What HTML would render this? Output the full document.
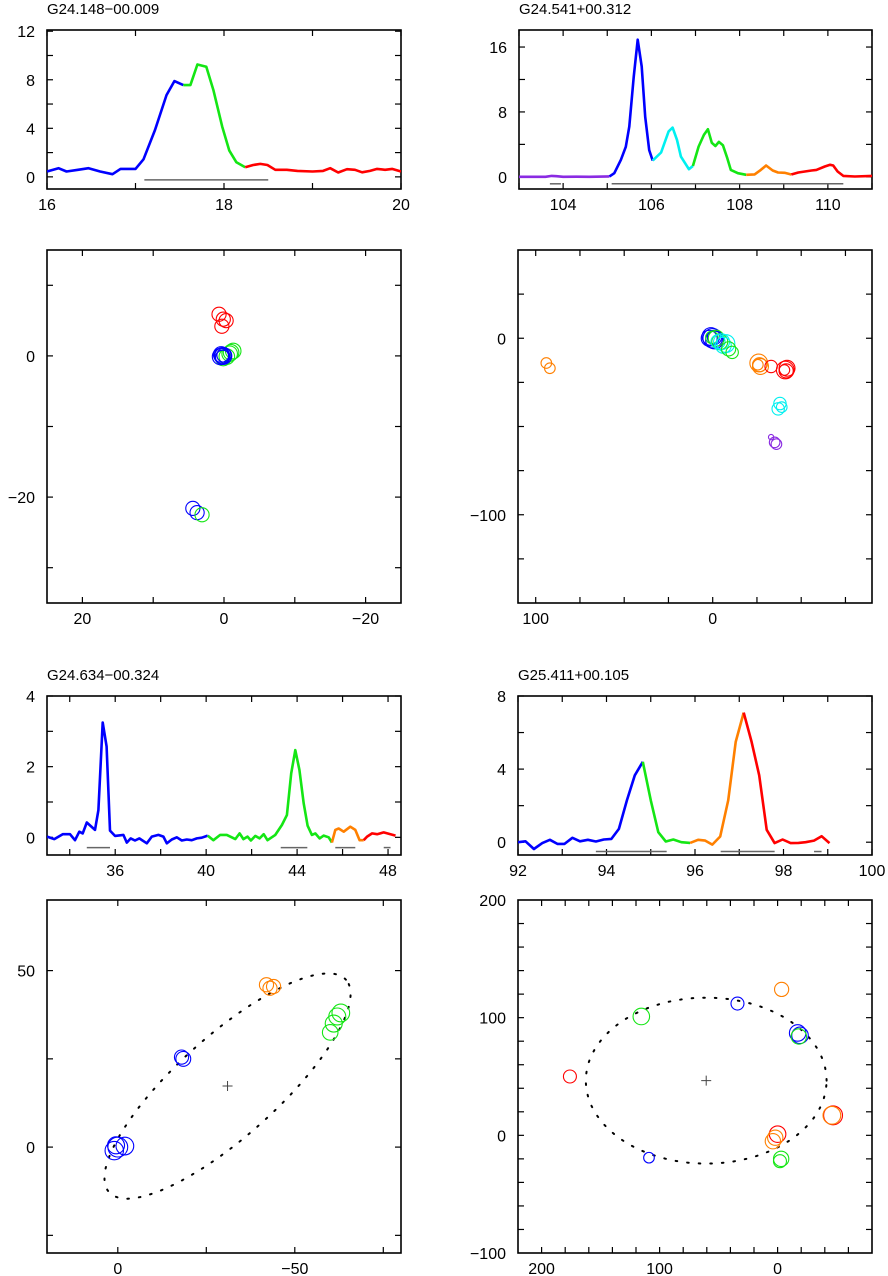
<!DOCTYPE html>
<html><head><meta charset="utf-8"><style>
html,body{margin:0;padding:0;background:#fff;}
svg{display:block;font-family:"Liberation Sans",sans-serif;}
</style></head><body>
<svg id="fig" width="888" height="1276" viewBox="0 0 888 1276" xmlns="http://www.w3.org/2000/svg"></svg>
<script>
// ===== Data =====
// Panel 1 spectrum G24.148-00.009
const s1BlueX=[16.0,16.13,16.22,16.35,16.47,16.6,16.74,16.83,17.0,17.09,17.22,17.35,17.44,17.54];
const s1BlueY=[0.44,0.71,0.44,0.58,0.71,0.44,0.22,0.66,0.66,1.45,3.86,6.74,7.89,7.56];
const s1GreenX=[17.54,17.62,17.70,17.8,17.88,17.98,18.06,18.14,18.24];
const s1GreenY=[7.56,7.56,9.26,9.07,7.15,4.14,2.16,1.2,0.79];
const s1RedX=[18.24,18.33,18.41,18.49,18.58,18.71,18.83,19.0,19.12,19.2,19.29,19.39,19.48,19.56,19.65,19.73,19.82,19.9,20.0];
const s1RedY=[0.79,0.98,1.07,0.98,0.58,0.58,0.49,0.44,0.49,0.71,0.36,0.63,0.58,0.38,0.49,0.66,0.58,0.66,0.44];
const s1Bars=[[17.1,18.5]];
// Panel 2 spectrum G24.541+00.312
const s2PurpleX=[103.0,103.6,103.74,103.85,104.0,104.3,104.6,105.05];
const s2PurpleY=[0,0,0.12,0.08,0,0.02,0.01,0.05];
const s2BlueX=[105.05,105.16,105.31,105.42,105.5,105.6,105.69,105.78,105.86,105.95,106.03];
const s2BlueY=[0.05,0.45,2.1,3.7,6.2,12.3,16.9,13.6,7.4,3.3,2.0];
const s2CyanX=[106.03,106.22,106.39,106.48,106.58,106.67,106.85,106.94];
const s2CyanY=[2.0,3.0,5.6,6.07,4.55,2.5,0.94,1.34];
const s2GreenX=[106.94,107.07,107.19,107.28,107.37,107.45,107.53,107.62,107.72,107.8,107.96,108.15];
const s2GreenY=[1.34,3.73,5.17,5.87,4.2,3.8,4.3,3.9,2.3,0.86,0.45,0.25];
const s2OrangeX=[108.15,108.34,108.48,108.6,108.75,108.87,109.02,109.17];
const s2OrangeY=[0.25,0.3,0.86,1.4,0.78,0.53,0.5,0.29];
const s2RedX=[109.17,109.33,109.48,109.63,109.74,109.93,110.05,110.12,110.22,110.35,110.61,111.0];
const s2RedY=[0.29,0.53,0.66,0.78,0.86,1.27,1.48,1.4,0.66,0.12,0.04,0.12];
const s2Bars=[[103.7,103.95],[105.1,110.35]];
// Panel 5 spectrum G24.634-00.324
const s3BlueX=[33.0,33.32,33.69,34.01,34.23,34.42,34.57,34.75,35.11,35.26,35.45,35.62,35.77,35.99,36.36,36.51,36.68,36.87,37.06,37.39,37.61,37.9,38.12,38.27,38.49,38.71,38.93,39.15,39.37,39.59,39.81,40.07];
const s3BlueY=[0.02,-0.05,0.09,0.09,-0.08,0.16,0.11,0.42,0.21,0.77,3.25,2.57,0.19,0.04,0.07,-0.15,-0.03,-0.09,-0.03,-0.17,0.02,0.07,0.02,-0.17,-0.06,0,-0.09,-0.06,-0.08,-0.03,-0.01,0.05];
const s3GreenX=[40.07,40.32,40.62,40.91,41.28,41.47,41.64,41.82,41.97,42.16,42.35,42.53,42.7,43.04,43.33,43.55,43.74,43.92,44.1,44.29,44.46,44.65,44.8,44.99,45.17,45.39,45.53];
const s3GreenY=[0.05,-0.08,0.07,0.07,-0.05,0.11,-0.05,0.02,-0.09,0.04,-0.03,0.09,-0.08,0.07,0.35,0.63,1.81,2.47,1.91,0.96,0.33,0.07,0.11,-0.03,0.05,0,-0.15];
const s3OrangeX=[45.53,45.68,45.83,46.05,46.34,46.56,46.75,46.93];
const s3OrangeY=[-0.15,0.21,0.25,0.16,0.3,0.21,-0.08,-0.08];
const s3RedX=[46.93,47.08,47.3,47.52,47.81,48.11,48.33];
const s3RedY=[-0.08,0.02,0.11,0.09,0.14,0.09,0.05];
const s3Bars=[[34.75,35.77],[43.28,44.45],[45.68,46.56],[47.81,48.11]];
// Panel 6 spectrum G25.411+00.105
const s4BlueX=[92.0,92.17,92.36,92.55,92.72,92.89,93.05,93.23,93.4,93.58,93.76,93.94,94.11,94.28,94.46,94.64,94.82];
const s4BlueY=[0,0.05,-0.37,-0.05,0.13,-0.09,-0.09,0.24,0.05,0.13,0.04,0.15,0.18,0.73,2.29,3.66,4.4];
const s4GreenX=[94.82,95.0,95.17,95.34,95.51,95.69,95.89];
const s4GreenY=[4.4,2.29,0.55,0.04,0.15,0,-0.04];
const s4OrangeX=[95.89,96.07,96.23,96.39,96.57,96.75,96.92,97.1];
const s4OrangeY=[-0.04,0.13,0.09,-0.13,0.31,2.29,5.49,7.09];
const s4RedX=[97.1,97.28,97.45,97.62,97.8,97.98,98.16,98.34,98.5,98.69,98.86,99.04];
const s4RedY=[7.09,5.49,3.66,0.68,-0.05,0.15,-0.05,-0.04,0,0.09,0.33,-0.05];
const s4Bars=[[93.76,95.36],[96.58,97.8],[98.69,98.86]];
// Map panel 3
const m1X=[0.7,0.1,0.3,-0.3,-1.3,-0.8,-0.4,0.1,-1.0,0.3,0.2,0.0,0.4,0.5,0.1,4.4,3.8,3.1];
const m1Y=[5.9,5.2,4.2,5.0,0.7,0.3,-0.1,-0.3,0.5,0.0,-0.2,0.1,0.2,-0.1,0.0,-21.6,-22.2,-22.5];
const m1R=[1.0,1.0,1.0,1.0,1.1,1.1,1.1,1.1,1.1,1.1,1.0,1.0,1.1,1.15,1.2,1.0,1.0,1.0];
const m1C=["red","red","red","red","green","green","green","green","green","blue","blue","blue","blue","blue","blue","blue","blue","green"];
// Map panel 4
const m2X=[0,1,-1,2,-1,0.5,-2,-4,-3,-5,-7.5,-6,-9,-11,-26,-27,-26.5,-25.5,-33,-41,-42,-41.5,-40.5,-38,-37,-39,-35,-36,-33,94,92];
const m2Y=[0,1,-1,0,0.5,0.5,0,-2,-2,-2,-3,-4,-6,-8,-14,-16,-15,-15,-16,-18,-17,-18.5,-18,-37,-40,-39,-59,-60,-56,-14,-17];
const m2R=[5.5,5,5,4.5,4,3.5,4.5,4.5,4,4.5,5,4.5,4,3.5,5,4.5,4,3,3.5,5,4.5,4,3,3.5,3.5,3,3,3,1.5,3,3];
const m2C=["blue","blue","blue","blue","blue","green","green","green","cyan","cyan","cyan","cyan","green","green","orange","orange","orange","orange","red","red","red","red","red","cyan","cyan","cyan","purple","purple","purple","orange","orange"];
// Map panel 7 (ellipse fit)
const m3X=[0,-2,1,0.5,-18.5,-18,-42,-44,-43,-62,-61,-60,-63];
const m3Y=[0,0.3,-1,0.5,25,25.5,46,45.5,45,37,35,32.5,38];
const m3R=[2.8,2.5,2.6,2.4,2.1,2.0,2.0,2.0,2.0,2.4,2.4,2.2,2.5];
const m3C=["blue","blue","blue","blue","blue","blue","orange","orange","orange","green","green","green","green"];
const e3=[-31,17.3,45,14.2,42]; // cx, cy, semi-major, semi-minor, angle(deg)
// Map panel 8 (ellipse fit)
const m4X=[115.5,34,-3.4,-17,-19,-18,176,-47,-46,0,4,2,-3,-2,109];
const m4Y=[101,112,124,87,85,84,50,17,17,1,-5,-2,-20,-22,-19];
const m4R=[7,5.5,6,7,7,6.5,5.5,8,7.5,7,6.5,6.5,6.5,5.5,4.5];
const m4C=["green","blue","orange","blue","blue","green","red","red","orange","red","orange","orange","green","green","blue"];
const e4=[60.5,46.5,102,70.5,0];

// ===== Drawing =====
const NS="http://www.w3.org/2000/svg";
const svg=document.getElementById('fig');
const COL={blue:"#0000ff",green:"#14e614",red:"#ff0000",orange:"#ff8000",cyan:"#00f0f0",purple:"#8a2be2"};
function mk(tag,attrs,parent){const e=document.createElementNS(NS,tag);for(const k in attrs)e.setAttribute(k,attrs[k]);(parent||svg).appendChild(e);return e;}
function fmt(v){return v<0?"\u2212"+(-v):String(v);}

function panel(name,box,xr,yr,xt,xl,yt,yl,title){
  const g=mk('g',{});
  
  
  const [L,T,R,B]=box;
  const sx=v=>L+(v-xr[0])/(xr[1]-xr[0])*(R-L);
  const sy=v=>B-(v-yr[0])/(yr[1]-yr[0])*(B-T);
  if(title){const t=mk('text',{x:L,y:T-16,'font-size':15,fill:'#000'},g);t.textContent=title;
    
    }
  const fr=mk('rect',{x:L,y:T,width:R-L,height:B-T,fill:'none',stroke:'#000','stroke-width':1.6},g);
  
  
  for(const v of xt){const x=sx(v);mk('line',{x1:x,y1:B,x2:x,y2:B-6,stroke:'#000','stroke-width':1.2},g);mk('line',{x1:x,y1:T,x2:x,y2:T+6,stroke:'#000','stroke-width':1.2},g);}
  for(const v of yt){const y=sy(v);mk('line',{x1:L,y1:y,x2:L+6,y2:y,stroke:'#000','stroke-width':1.2},g);mk('line',{x1:R,y1:y,x2:R-6,y2:y,stroke:'#000','stroke-width':1.2},g);}
  for(const v of xl){const t=mk('text',{x:sx(v),y:B+21,'font-size':16,'text-anchor':'middle',fill:'#000'},g);t.textContent=fmt(v);
    
    }
  for(const v of yl){const t=mk('text',{x:L-12,y:sy(v)+6,'font-size':16,'text-anchor':'end',fill:'#000'},g);t.textContent=fmt(v);
    
    }
  const cp='cp'+name;const cpe=mk('clipPath',{id:cp},g);mk('rect',{x:L,y:T,width:R-L,height:B-T},cpe);
  const inner=mk('g',{'clip-path':'url(#'+cp+')'},g);
  return {g:inner,sx,sy};
}
function range(a,b,s){const r=[];for(let v=a;v<=b+1e-9;v+=s)r.push(+v.toFixed(6));return r;}
function series(p,xs,ys,color,name){
  const d=xs.map((x,i)=>(i?'L':'M')+p.sx(x).toFixed(1)+' '+p.sy(ys[i]).toFixed(1)).join(' ');
  const e=mk('path',{d,fill:'none',stroke:COL[color],'stroke-width':2.6,'stroke-linejoin':'round'},p.g);
  
  
}
function bars(p,segs,y){for(const s of segs){const e=mk('line',{x1:p.sx(s[0]),x2:p.sx(s[1]),y1:p.sy(y),y2:p.sy(y),stroke:'#666','stroke-width':1.5},p.g);
  
  }}
function spots(p,X,Y,Rr,C){const k=Math.abs(p.sx(1)-p.sx(0));
  X.forEach((x,i)=>{const e=mk('circle',{cx:p.sx(x),cy:p.sy(Y[i]),r:Rr[i]*k,fill:'none',stroke:COL[C[i]],'stroke-width':1.1},p.g);
  
  });}
function ellipse(p,e){const [cx,cy,a,b,ang]=e;const th=ang*Math.PI/180;
  const pts=[];for(let i=0;i<=200;i++){const t=i/200*2*Math.PI;const u=a*Math.cos(t),v=b*Math.sin(t);
    const dx=u*Math.cos(th)-v*Math.sin(th),dy=u*Math.sin(th)+v*Math.cos(th);
    pts.push([p.sx(cx-dx),p.sy(cy+dy)]);}
  const el=mk('path',{d:pts.map((q,i)=>(i?'L':'M')+q[0].toFixed(1)+' '+q[1].toFixed(1)).join(' '),fill:'none',stroke:'#000','stroke-width':2,'stroke-dasharray':'1.6 10','stroke-linecap':'round'},p.g);
  
  
  const X=p.sx(cx),Y=p.sy(cy);
  const cr=mk('path',{d:`M${X-5} ${Y}H${X+5}M${X} ${Y-5}V${Y+5}`,stroke:'#444','stroke-width':1},p.g);
  
  }

let p=panel('spectrum-g24148',[47,30,401,189],[16,20],[-1,12.1],range(16,20,1),[16,18,20],range(0,12,2),[0,4,8,12],'G24.148\u221200.009');
series(p,s1BlueX,s1BlueY,'blue','spectrum-blue');series(p,s1GreenX,s1GreenY,'green','spectrum-green');series(p,s1RedX,s1RedY,'red','spectrum-red');bars(p,s1Bars,-0.25);
p=panel('spectrum-g24541',[519,30,872,189],[103,111],[-1.5,18.1],range(103,111,1),[104,106,108,110],range(0,16,4),[0,8,16],'G24.541+00.312');
series(p,s2PurpleX,s2PurpleY,'purple','spectrum-purple');series(p,s2BlueX,s2BlueY,'blue','spectrum-blue');series(p,s2CyanX,s2CyanY,'cyan','spectrum-cyan');series(p,s2GreenX,s2GreenY,'green','spectrum-green');series(p,s2OrangeX,s2OrangeY,'orange','spectrum-orange');series(p,s2RedX,s2RedY,'red','spectrum-red');bars(p,s2Bars,-0.86);
p=panel('map-g24148',[47,250,401,603],[25,-25],[-35,15],range(-20,20,10).reverse(),[20,0,-20],range(-30,10,10),[0,-20],null);
spots(p,m1X,m1Y,m1R,m1C);
p=panel('map-g24541',[518,250,872,603],[110,-90],[-150,50],range(-75,100,25),[100,0],range(-125,25,25),[0,-100],null);
spots(p,m2X,m2Y,m2R,m2C);
p=panel('spectrum-g24634',[47,696,401,855],[33,48.57],[-0.5,4],range(34,48,2),[36,40,44,48],range(0,4,1),[0,2,4],'G24.634\u221200.324');
series(p,s3BlueX,s3BlueY,'blue','spectrum-blue');series(p,s3GreenX,s3GreenY,'green','spectrum-green');series(p,s3OrangeX,s3OrangeY,'orange','spectrum-orange');series(p,s3RedX,s3RedY,'red','spectrum-red');bars(p,s3Bars,-0.29);
p=panel('spectrum-g25411',[518,696,872,855],[92,100],[-0.7,8],range(92,100,1),[92,94,96,98,100],range(0,8,2),[0,4,8],'G25.411+00.105');
series(p,s4BlueX,s4BlueY,'blue','spectrum-blue');series(p,s4GreenX,s4GreenY,'green','spectrum-green');series(p,s4OrangeX,s4OrangeY,'orange','spectrum-orange');series(p,s4RedX,s4RedY,'red','spectrum-red');bars(p,s4Bars,-0.51);
p=panel('map-g24634',[47,900,401,1253],[20,-80],[-30,70],range(-75,0,25),[0,-50],range(-25,50,25),[0,50],null);
ellipse(p,e3);spots(p,m3X,m3Y,m3R,m3C);
p=panel('map-g25411',[518,900,872,1253],[220,-80],[-100,200],range(-60,200,20),[200,100,0],range(-80,180,20),[-100,0,100,200],null);
ellipse(p,e4);spots(p,m4X,m4Y,m4R,m4C);
</script>
</body></html>
